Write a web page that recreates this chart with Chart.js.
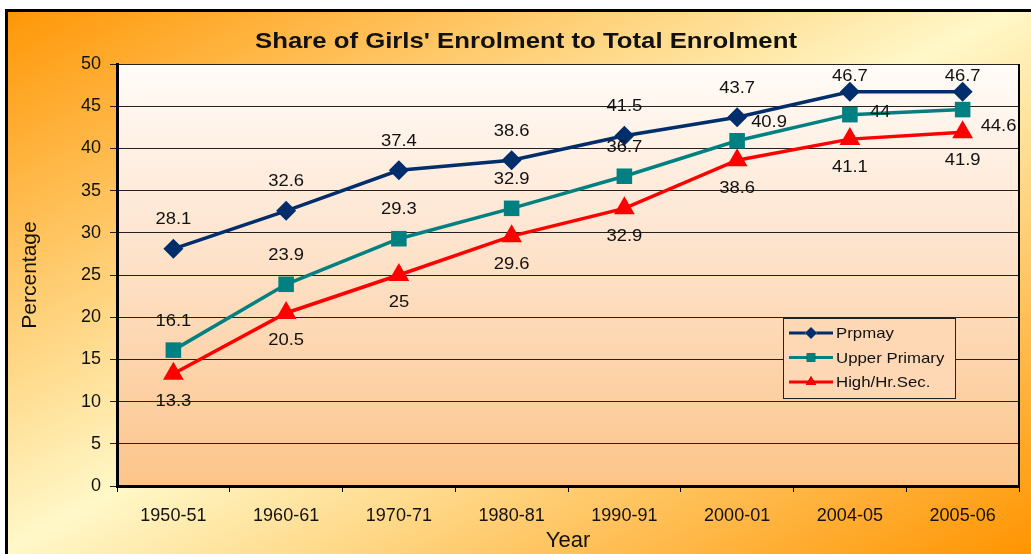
<!DOCTYPE html>
<html>
<head>
<meta charset="utf-8">
<script src="https://cdn.jsdelivr.net/npm/chart.js@4.4.1/dist/chart.umd.min.js"></script>
<style>
  html, body { margin: 0; padding: 0; background: #fff; }
  #wrap { position: relative; width: 1031px; height: 554px; }
</style>
</head>
<body>
<div id="wrap"><canvas id="enrolChart" width="1031" height="554"></canvas></div>
<script>
const years = ['1950-51', '1960-61', '1970-71', '1980-81', '1990-91', '2000-01', '2004-05', '2005-06'];
const primary = [28.1, 32.6, 37.4, 38.6, 41.5, 43.7, 46.7, 46.7];
const upperPrimary = [16.1, 23.9, 29.3, 32.9, 36.7, 40.9, 44, 44.6];
const highSec = [13.3, 20.5, 25, 29.6, 32.9, 38.6, 41.1, 41.9];
const yTicks = [0, 5, 10, 15, 20, 25, 30, 35, 40, 45, 50];

const FONT = "'Liberation Sans', Arial, sans-serif";

// where each series puts its value labels
const labelPlace = [
    ['top', 'top', 'top', 'top', 'top', 'top', 'top', 'top'],
    ['top', 'top', 'top', 'top', 'top', 'topright', 'right', 'bottomright'],
    ['bottom', 'bottom', 'bottom', 'bottom', 'bottom', 'bottom', 'bottom', 'bottom']
];

// text in the original is a bit wider than Arial, stretch it sideways
function wideText(ctx, text, x, y, align, sx) {
    ctx.save();
    ctx.translate(x, y);
    ctx.scale(sx, 1);
    ctx.textAlign = align;
    ctx.fillText(text, 0, 0);
    ctx.restore();
}

const backdrop = {
    id: 'backdrop',
    beforeDraw(chart) {
        const ctx = chart.ctx;
        const W = chart.width, H = chart.height;
        ctx.save();
        ctx.fillStyle = '#ffffff';
        ctx.fillRect(0, 0, W, H);
        const g = ctx.createLinearGradient(284, -153, 746, 707);
        g.addColorStop(0, '#ff9400');
        g.addColorStop(0.5, '#fff8c8');
        g.addColorStop(1, '#ff9400');
        ctx.fillStyle = g;
        ctx.fillRect(6, 10, W - 6, H - 10);
        ctx.strokeStyle = '#000';
        ctx.lineWidth = 3;
        ctx.beginPath();
        ctx.moveTo(6.5, H + 2);
        ctx.lineTo(6.5, 10.5);
        ctx.lineTo(W + 2, 10.5);
        ctx.stroke();

        const a = chart.chartArea;
        const pg = ctx.createLinearGradient(0, a.top, 0, a.bottom);
        pg.addColorStop(0, '#fffcf8');
        pg.addColorStop(0.35, '#fee8d6');
        pg.addColorStop(1, '#fcc48a');
        ctx.fillStyle = pg;
        ctx.fillRect(a.left, a.top, a.right - a.left, a.bottom - a.top);

        ctx.font = 'bold 22px ' + FONT;
        ctx.fillStyle = '#111';
        ctx.textBaseline = 'middle';
        wideText(ctx, "Share of Girls' Enrolment to Total Enrolment", 526, 42, 'center', 1.17);
        ctx.restore();
    },
    afterDatasetsDraw(chart) {
        const ctx = chart.ctx;
        const a = chart.chartArea;
        ctx.save();
        ctx.strokeStyle = '#000';
        ctx.lineWidth = 2;
        ctx.beginPath();
        ctx.moveTo(a.right, a.top);
        ctx.lineTo(a.right, a.bottom);
        ctx.stroke();

        ctx.font = '16px ' + FONT;
        ctx.fillStyle = '#111';
        ctx.textBaseline = 'middle';
        chart.data.datasets.forEach((ds, i) => {
            chart.getDatasetMeta(i).data.forEach((pt, j) => {
                const place = labelPlace[i][j];
                let x = pt.x, y = pt.y, align = 'center';
                if (place === 'top') y = Math.max(pt.y - 29, a.top + 13);
                else if (place === 'bottom') y = pt.y + 28;
                else if (place === 'right') { x = pt.x + 20; y = pt.y - 2; align = 'left'; }
                else if (place === 'topright') { x = pt.x + 14; y = pt.y - 18; align = 'left'; }
                else if (place === 'bottomright') { x = pt.x + 18; y = pt.y + 17; align = 'left'; }
                wideText(ctx, String(ds.data[j]), x, y, align, 1.15);
            });
        });
        ctx.restore();
    },
    afterDraw(chart) {
        // legend box inside the plot
        const ctx = chart.ctx;
        const bx = 783, by = 318, bw = 172, bh = 80;
        ctx.save();
        ctx.fillStyle = '#fed7b4';
        ctx.fillRect(bx, by, bw, bh);
        ctx.strokeStyle = '#222';
        ctx.lineWidth = 1;
        ctx.strokeRect(bx + 0.5, by + 0.5, bw, bh);
        ctx.font = '15px ' + FONT;
        ctx.textBaseline = 'middle';
        chart.data.datasets.forEach((ds, i) => {
            const y = by + 15 + i * 24.5;
            ctx.strokeStyle = ds.borderColor;
            ctx.lineWidth = 3;
            ctx.beginPath();
            ctx.moveTo(bx + 6, y);
            ctx.lineTo(bx + 50, y);
            ctx.stroke();
            Chart.helpers.drawPoint(ctx, {
                pointStyle: ds.pointStyle, radius: 6, borderWidth: 0
            }, bx + 28, y);
            ctx.fillStyle = ds.borderColor;
            ctx.fill();
            ctx.fillStyle = '#111';
            wideText(ctx, ds.label, bx + 53, y + 1, 'left', 1.12);
        });
        ctx.restore();
    }
};

new Chart(document.getElementById('enrolChart').getContext('2d'), {
    type: 'line',
    data: {
        labels: years,
        datasets: [
            {
                label: 'Prpmay',
                data: primary,
                borderColor: '#002d6b',
                backgroundColor: '#002d6b',
                borderWidth: 3.5,
                pointStyle: 'rectRot',
                pointRadius: 10,
                pointBorderWidth: 0
            },
            {
                label: 'Upper Primary',
                data: upperPrimary,
                borderColor: '#008080',
                backgroundColor: '#008080',
                borderWidth: 3.5,
                pointStyle: 'rect',
                pointRadius: 11,
                pointBorderWidth: 0
            },
            {
                label: 'High/Hr.Sec.',
                data: highSec,
                borderColor: '#ff0000',
                backgroundColor: '#ff0000',
                borderWidth: 3.5,
                pointStyle: 'triangle',
                pointRadius: 12,
                pointBorderWidth: 0
            }
        ]
    },
    options: {
        responsive: false,
        animation: false,
        layout: { padding: { left: 0, top: 64, right: 7, bottom: 0 } },
        plugins: {
            legend: { display: false },
            title: { display: false },
            tooltip: { enabled: false }
        },
        scales: {
            x: {
                offset: true,
                grid: { display: true, drawOnChartArea: false, offset: true, tickLength: 6, color: '#000', lineWidth: 1 },
                border: { display: true, color: '#000', width: 3 },
                ticks: { color: '#111', font: { family: FONT, size: 18 }, padding: 13, maxRotation: 0 },
                title: { display: true, text: 'Year', color: '#111', font: { family: FONT, size: 22 }, padding: { top: 0, bottom: 0 } },
                afterFit(scale) { scale.height = 68; }
            },
            y: {
                min: 0,
                max: 50,
                afterBuildTicks(scale) { scale.ticks = yTicks.map(v => ({ value: v })); },
                grid: { color: '#222', lineWidth: 1, tickLength: 7 },
                border: { display: true, color: '#000', width: 3 },
                ticks: { color: '#111', font: { family: FONT, size: 18 }, padding: 9 },
                title: { display: true, text: 'Percentage', color: '#111', font: { family: FONT, size: 21 }, padding: { top: 18, bottom: 0 } },
                afterFit(scale) { scale.width = 117; }
            }
        }
    },
    plugins: [backdrop]
});
</script>
</body>
</html>
